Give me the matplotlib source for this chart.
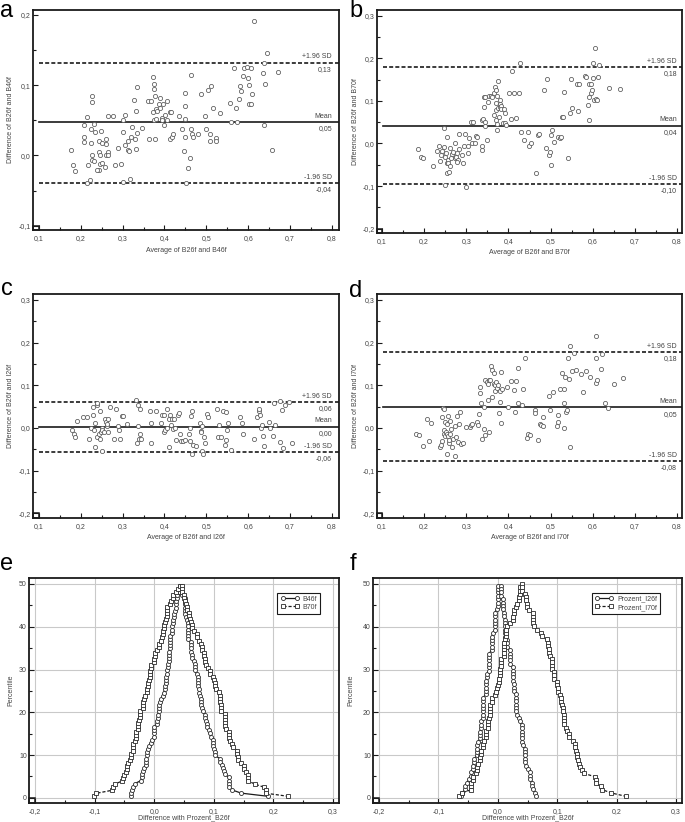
import numpy as np
import matplotlib
matplotlib.use("Agg")
import matplotlib.pyplot as plt
from matplotlib.ticker import MultipleLocator, FuncFormatter
from matplotlib.patches import Rectangle

plt.rcParams['font.family'] = ['Liberation Sans', 'DejaVu Sans']
TXT = '#444444'
INK = '#1a1a1a'
PT = '#555555'
W, H = 685, 822

# ---------------- data ----------------
# a: B26f vs B46f
a_avg = [0.176, 0.182, 0.186, 0.215, 0.207, 0.209, 0.207, 0.218, 0.215, 0.223,
         0.226, 0.227, 0.224, 0.225, 0.227, 0.227, 0.232, 0.233, 0.231, 0.243,
         0.244, 0.246, 0.246, 0.244, 0.240, 0.248, 0.250, 0.250, 0.258, 0.260,
         0.261, 0.261, 0.264, 0.265, 0.265, 0.278, 0.281, 0.289, 0.297, 0.300,
         0.302, 0.306, 0.306, 0.300, 0.312, 0.313, 0.315, 0.320, 0.322, 0.327,
         0.329, 0.331, 0.333, 0.335, 0.318, 0.335, 0.346, 0.361, 0.362, 0.369,
         0.372, 0.375, 0.373, 0.375, 0.375, 0.377, 0.379, 0.381, 0.378, 0.383,
         0.387, 0.389, 0.390, 0.393, 0.396, 0.394, 0.402, 0.400, 0.405, 0.407,
         0.413, 0.414, 0.416, 0.419, 0.421, 0.434, 0.443, 0.447, 0.450, 0.450,
         0.450, 0.450, 0.456, 0.460, 0.463, 0.464, 0.467, 0.468, 0.479, 0.487,
         0.496, 0.499, 0.504, 0.508, 0.510, 0.511, 0.516, 0.522, 0.524, 0.533,
         0.556, 0.559, 0.567, 0.570, 0.573, 0.578, 0.581, 0.584, 0.588, 0.589,
         0.597, 0.600, 0.602, 0.602, 0.606, 0.607, 0.610, 0.615, 0.636, 0.639,
         0.639, 0.641, 0.646, 0.658, 0.672, 0.452]
a_diff = [0.008, -0.013, -0.022, 0.055, 0.044, 0.027, 0.019, -0.014, -0.039, -0.035,
          0.085, 0.076, 0.038, 0.018, 0.000, -0.006, 0.045, 0.034, -0.008, 0.020,
          0.005, 0.000, -0.012, -0.021, -0.021, 0.035, 0.018, -0.011, -0.017, 0.024,
          0.016, 0.000, 0.005, 0.000, 0.056, 0.056, -0.013, 0.011, -0.012, 0.051,
          0.034, 0.057, 0.015, -0.038, 0.020, 0.008, 0.006, 0.026, 0.041, 0.079,
          0.024, 0.009, 0.064, 0.098, -0.033, 0.032, 0.039, 0.078, 0.023, 0.077,
          0.062, 0.095, 0.111, 0.051, 0.102, 0.085, 0.066, 0.052, 0.023, 0.063,
          0.073, 0.068, 0.082, 0.054, 0.073, 0.051, 0.057, 0.044, 0.051, 0.078,
          0.062, 0.024, 0.062, 0.027, 0.030, 0.056, 0.037, 0.006, 0.089, 0.071,
          0.052, 0.026, -0.018, -0.003, 0.115, 0.037, 0.031, 0.026, 0.030, 0.088,
          0.056, 0.037, 0.093, 0.021, 0.030, 0.099, 0.068, 0.025, 0.021, 0.061,
          0.075, 0.047, 0.125, 0.068, 0.047, 0.081, 0.099, 0.092, 0.113, 0.125,
          0.126, 0.110, 0.101, 0.073, 0.125, 0.073, 0.087, 0.191, 0.117, 0.131,
          0.044, 0.102, 0.146, 0.008, 0.119, -0.039]
a_lines = [0.132, 0.047, -0.039]
a_vals = ['0,13', '0,05', '-0,04']

# b: B26f vs B70f  (average, difference)
b_pts = [(0.185, -0.012), (0.192, -0.031), (0.197, -0.033), (0.221, -0.052), (0.231, -0.017),
         (0.235, -0.005), (0.237, -0.041), (0.239, -0.028), (0.242, -0.018), (0.247, -0.009),
         (0.247, 0.037), (0.250, -0.031), (0.251, -0.023), (0.253, 0.016), (0.254, -0.047),
         (0.257, -0.039), (0.254, -0.070), (0.258, -0.066), (0.257, -0.045), (0.261, -0.054),
         (0.262, -0.011), (0.265, -0.025), (0.263, -0.035), (0.268, -0.019), (0.272, 0.000),
         (0.274, -0.035), (0.276, -0.031), (0.280, -0.039), (0.277, -0.044), (0.279, -0.023),
         (0.282, -0.012), (0.283, 0.022), (0.289, -0.027), (0.292, -0.045), (0.294, -0.007),
         (0.296, 0.022), (0.299, -0.101), (0.304, -0.006), (0.305, -0.023), (0.307, 0.012),
         (0.311, 0.050), (0.316, 0.050), (0.314, 0.002), (0.320, 0.002), (0.324, 0.018),
         (0.325, 0.016), (0.337, 0.055), (0.337, -0.015), (0.338, -0.007), (0.340, 0.058),
         (0.342, 0.085), (0.341, 0.110), (0.344, 0.051), (0.344, 0.040), (0.345, 0.108),
         (0.348, 0.008), (0.351, 0.098), (0.355, 0.112), (0.359, 0.112), (0.362, 0.110),
         (0.365, 0.066), (0.365, 0.118), (0.367, 0.133), (0.370, 0.125), (0.371, 0.054),
         (0.371, 0.094), (0.371, 0.079), (0.373, 0.032), (0.374, 0.112), (0.374, 0.046),
         (0.376, 0.146), (0.375, 0.084), (0.378, 0.063), (0.379, 0.093), (0.379, 0.101),
         (0.381, 0.085), (0.383, 0.087), (0.382, 0.081), (0.386, 0.047), (0.389, 0.080),
         (0.391, 0.071), (0.393, 0.047), (0.395, 0.043), (0.401, 0.119), (0.405, 0.058),
         (0.408, 0.169), (0.413, 0.119), (0.419, 0.060), (0.424, 0.118), (0.427, 0.188),
         (0.431, 0.028), (0.437, 0.008), (0.446, 0.026), (0.449, -0.007), (0.454, 0.000),
         (0.465, -0.069), (0.471, 0.020), (0.473, 0.022), (0.485, 0.126), (0.490, -0.011),
         (0.492, 0.151), (0.496, -0.028), (0.498, -0.019), (0.500, -0.050), (0.501, 0.021),
         (0.503, 0.032), (0.508, 0.004), (0.517, 0.015), (0.522, 0.013), (0.525, 0.015),
         (0.528, 0.063), (0.530, 0.061), (0.533, 0.121), (0.541, -0.035), (0.545, 0.071),
         (0.548, 0.151), (0.552, 0.083), (0.564, 0.076), (0.563, 0.139), (0.567, 0.140),
         (0.581, 0.158), (0.584, 0.157), (0.589, 0.090), (0.591, 0.140), (0.597, 0.139),
         (0.591, 0.110), (0.601, 0.154), (0.596, 0.118), (0.599, 0.126), (0.601, 0.188),
         (0.602, 0.102), (0.605, 0.225), (0.609, 0.104), (0.610, 0.102), (0.613, 0.157),
         (0.615, 0.184), (0.591, 0.055), (0.639, 0.130), (0.666, 0.127), (0.250, -0.097)]
b_lines = [0.179, 0.042, -0.095]
b_vals = ['0,18', '0,04', '-0,10']

# c: B26f vs I26f
c_pts = [(0.180, -0.005), (0.185, -0.015), (0.187, -0.020), (0.190, 0.016), (0.205, 0.025),
         (0.215, 0.025), (0.220, -0.025), (0.225, 0.000), (0.230, 0.030), (0.230, 0.050),
         (0.232, -0.005), (0.235, 0.012), (0.235, -0.045), (0.238, 0.055), (0.240, 0.058),
         (0.240, -0.020), (0.243, -0.015), (0.245, 0.040), (0.245, -0.025), (0.248, -0.010),
         (0.250, 0.000), (0.250, -0.005), (0.252, -0.055), (0.255, -0.010), (0.258, 0.020),
         (0.260, 0.015), (0.262, 0.005), (0.263, 0.010), (0.265, -0.010), (0.265, 0.020),
         (0.270, 0.048), (0.280, -0.025), (0.285, 0.045), (0.290, 0.005), (0.292, -0.005),
         (0.293, -0.025), (0.298, 0.028), (0.300, 0.028), (0.310, 0.010), (0.332, 0.065),
         (0.335, -0.035), (0.337, 0.055), (0.338, 0.005), (0.340, -0.025), (0.342, -0.015),
         (0.342, 0.045), (0.345, -0.025), (0.365, 0.040), (0.367, 0.012), (0.368, -0.035),
         (0.380, 0.040), (0.392, 0.012), (0.395, 0.030), (0.398, 0.030), (0.400, -0.010),
         (0.402, -0.005), (0.405, 0.045), (0.407, 0.000), (0.410, 0.020), (0.410, -0.045),
         (0.413, 0.030), (0.415, 0.008), (0.418, 0.020), (0.420, -0.002), (0.423, 0.020),
         (0.425, 0.000), (0.428, -0.028), (0.432, 0.030), (0.434, 0.035), (0.437, -0.015),
         (0.440, -0.030), (0.445, -0.030), (0.450, -0.028), (0.458, -0.015), (0.460, -0.030),
         (0.462, 0.000), (0.463, 0.028), (0.465, 0.040), (0.465, -0.060), (0.468, -0.040),
         (0.475, -0.042), (0.485, 0.012), (0.487, -0.008), (0.488, -0.010), (0.490, 0.005),
         (0.490, -0.055), (0.492, -0.062), (0.495, -0.020), (0.497, -0.035), (0.502, 0.033),
         (0.505, 0.025), (0.525, 0.045), (0.528, -0.020), (0.530, 0.008), (0.535, -0.020),
         (0.540, 0.040), (0.545, -0.040), (0.547, -0.028), (0.548, 0.038), (0.550, -0.005),
         (0.552, 0.012), (0.560, -0.052), (0.580, 0.025), (0.585, 0.012), (0.587, -0.015),
         (0.615, -0.025), (0.620, 0.025), (0.625, 0.040), (0.627, 0.045), (0.628, 0.030),
         (0.630, 0.000), (0.632, 0.008), (0.635, -0.018), (0.638, -0.042), (0.650, 0.015),
         (0.652, 0.000), (0.660, -0.018), (0.662, 0.058), (0.665, 0.008), (0.675, -0.033),
         (0.677, 0.063), (0.680, 0.042), (0.683, -0.048), (0.687, 0.055), (0.698, 0.060),
         (0.705, -0.035)]
c_lines = [0.061, 0.003, -0.056]
c_vals = ['0,06', '0,00', '-0,06']

# d: B26f vs I70f
d_pts = [(0.181, -0.013), (0.188, -0.017), (0.197, -0.042), (0.207, 0.020), (0.211, -0.030),
         (0.217, 0.011), (0.237, -0.045), (0.241, -0.041), (0.242, -0.030), (0.243, 0.026),
         (0.245, 0.047), (0.246, 0.045), (0.246, -0.015), (0.247, -0.004), (0.249, 0.014),
         (0.250, -0.019), (0.251, -0.009), (0.253, -0.060), (0.254, -0.013), (0.255, 0.010),
         (0.256, 0.028), (0.257, -0.019), (0.258, -0.035), (0.259, -0.029), (0.261, 0.016),
         (0.262, -0.013), (0.264, -0.002), (0.265, -0.045), (0.268, -0.025), (0.272, 0.004),
         (0.274, -0.065), (0.275, -0.020), (0.278, 0.027), (0.280, -0.034), (0.282, 0.010),
         (0.286, 0.038), (0.288, -0.037), (0.292, -0.035), (0.300, 0.002), (0.308, 0.002),
         (0.310, 0.006), (0.314, 0.010), (0.325, 0.014), (0.328, 0.006), (0.330, 0.032),
         (0.332, 0.082), (0.333, 0.095), (0.335, 0.059), (0.338, -0.025), (0.341, 0.049),
         (0.343, -0.003), (0.344, 0.112), (0.345, -0.017), (0.348, 0.107), (0.351, 0.102),
         (0.352, 0.066), (0.353, 0.112), (0.354, -0.009), (0.357, 0.112), (0.359, 0.145),
         (0.361, 0.135), (0.362, 0.073), (0.365, 0.130), (0.366, 0.104), (0.367, 0.087),
         (0.369, 0.100), (0.371, 0.108), (0.373, 0.094), (0.375, 0.100), (0.378, 0.035),
         (0.379, 0.087), (0.381, 0.061), (0.382, 0.012), (0.383, 0.131), (0.384, 0.092),
         (0.397, 0.095), (0.400, 0.049), (0.405, 0.110), (0.413, 0.088), (0.415, 0.037),
         (0.419, 0.110), (0.422, 0.059), (0.423, 0.141), (0.433, 0.053), (0.435, 0.092),
         (0.439, 0.163), (0.443, -0.023), (0.446, -0.013), (0.452, -0.017), (0.462, 0.041),
         (0.464, 0.035), (0.470, -0.029), (0.476, 0.010), (0.478, 0.006), (0.481, 0.026),
         (0.482, 0.004), (0.496, 0.074), (0.498, 0.041), (0.506, 0.084), (0.515, 0.004),
         (0.517, 0.031), (0.518, 0.014), (0.522, 0.091), (0.527, 0.130), (0.531, 0.000),
         (0.532, 0.059), (0.533, 0.092), (0.535, 0.120), (0.537, 0.037), (0.540, 0.041),
         (0.542, 0.165), (0.544, 0.114), (0.545, -0.045), (0.546, 0.191), (0.552, 0.134),
         (0.556, 0.176), (0.560, 0.137), (0.573, 0.126), (0.577, 0.084), (0.585, 0.134),
         (0.593, 0.120), (0.607, 0.106), (0.610, 0.112), (0.609, 0.165), (0.607, 0.215),
         (0.620, 0.139), (0.622, 0.173), (0.629, 0.059), (0.636, 0.047), (0.651, 0.102),
         (0.672, 0.116)]
d_lines = [0.177, 0.048, -0.078]
d_vals = ['0,18', '0,05', '-0,08']

line_names = ['+1.96 SD', 'Mean', '-1.96 SD']

# ---------------- helpers ----------------
fig = plt.figure(figsize=(W / 100, H / 100), dpi=100)
fig.patch.set_facecolor('white')


def px_ax(l, t, r, b):
    return fig.add_axes([l / W, 1 - b / H, (r - l) / W, (b - t) / H])


def comma(fmt):
    def f(v, pos):
        s = fmt.format(v)
        if s.startswith('-') and float(s) == 0:
            s = s[1:]
        return s.replace('.', ',')
    return FuncFormatter(f)


def style(ax, xlim, ylim, x0, y0, xstep, ystep, xfmt, yfmt, xlab, ylab, xl_y, yl_x):
    ax.set_xlim(*xlim)
    ax.set_ylim(*ylim)
    ax.xaxis.set_major_locator(MultipleLocator(xstep))
    ax.xaxis.set_minor_locator(MultipleLocator(xstep / 2))
    ax.yaxis.set_major_locator(MultipleLocator(ystep))
    ax.yaxis.set_minor_locator(MultipleLocator(ystep / 2))
    ax.xaxis.set_major_formatter(xfmt)
    ax.yaxis.set_major_formatter(yfmt)
    ax.tick_params(which='both', direction='in', color=INK, width=0.8,
                   labelsize=5, labelcolor=TXT, top=False, right=False)
    ax.tick_params(which='major', length=3.5)
    ax.tick_params(which='minor', length=2)
    ax.tick_params(axis='x', which='both', pad=3.5)
    ax.tick_params(axis='y', which='both', pad=1.5)
    for sp in ax.spines.values():
        sp.set_linewidth(1.3)
        sp.set_color(INK)
    ax.set_xlabel(xlab, fontsize=5, color=TXT)
    ax.set_ylabel(ylab, fontsize=5, color=TXT)
    ax.xaxis.set_label_coords(0.5, xl_y)
    ax.yaxis.set_label_coords(yl_x, 0.5)
    # little corner bracket where both axes start
    ax.add_patch(Rectangle((xlim[0], ylim[0]), x0 - xlim[0], y0 - ylim[0],
                           fill=False, lw=1.1, ec=INK, clip_on=False, zorder=5))


def bland_altman(ax, avg, diff, lines, vals):
    ax.scatter(avg, diff, s=9, facecolors='white', edgecolors=PT, linewidths=0.55, zorder=3)
    for k, (yv, name, val) in enumerate(zip(lines, line_names, vals)):
        ls = '-' if k == 1 else (0, (2.4, 1.3))
        ax.axhline(yv, xmin=0.02, xmax=1.0, color=INK, lw=1.2, ls=ls, zorder=2)
        ax.annotate(name, (0.8, yv), xytext=(0, 1.6), textcoords='offset points',
                    ha='right', va='bottom', fontsize=5, color=TXT)
        ax.annotate(val, (0.8, yv), xytext=(0, -2.2), textcoords='offset points',
                    ha='right', va='top', fontsize=5, color=TXT)


def mountain(diff):
    s = np.sort(np.asarray(diff))
    n = len(s)
    p = 100.0 * (np.arange(1, n + 1) - 0.5) / n
    return s, np.where(p > 50, 100 - p, p)


f1 = comma('{:.1f}')
f0 = FuncFormatter(lambda v, pos: f'{v:.0f}')

# ---------------- a ----------------
ax = px_ax(33, 10, 339, 230)
style(ax, (0.086, 0.817), (-0.106, 0.207), 0.1, -0.1, 0.1, 0.1, f1, f1,
      'Average of B26f and B46f', 'Difference of B26f and B46f', -0.075, -0.062)
bland_altman(ax, a_avg, a_diff, a_lines, a_vals)

# ---------------- b ----------------
bx, by = np.array(b_pts).T
ax = px_ax(377, 10, 682, 233)
style(ax, (0.088, 0.812), (-0.210, 0.313), 0.1, -0.2, 0.1, 0.1, f1, f1,
      'Average of B26f and B70f', 'Difference of B26f and B70f', -0.073, -0.058)
bland_altman(ax, bx, by, b_lines, b_vals)

# ---------------- c ----------------
cx, cy = np.array(c_pts).T
ax = px_ax(33, 294, 339, 518)
style(ax, (0.086, 0.817), (-0.211, 0.314), 0.1, -0.2, 0.1, 0.1, f1, f1,
      'Average of B26f and I26f', 'Difference of B26f and I26f', -0.073, -0.062)
bland_altman(ax, cx, cy, c_lines, c_vals)

# ---------------- d ----------------
dx, dy = np.array(d_pts).T
ax = px_ax(377, 294, 682, 518)
style(ax, (0.088, 0.812), (-0.211, 0.314), 0.1, -0.2, 0.1, 0.1, f1, f1,
      'Average of B26f and I70f', 'Difference of B26f and I70f', -0.073, -0.058)
bland_altman(ax, dx, dy, d_lines, d_vals)


# ---------------- e / f : mountain plots ----------------
def mountain_panel(l, r, d1, d2, n1, n2, leg_x, yl_x):
    ax = px_ax(l, 578, r, 803)
    style(ax, (-0.210, 0.310), (-1.2, 51.4), -0.2, 0, 0.1, 10, f1, f0,
          'Difference with Prozent_B26f', 'Percentile', -0.05, yl_x)
    ax.grid(True, which='major', color='#c9c9c9', lw=0.8, zorder=0)
    ax.set_axisbelow(True)
    x1, p1 = mountain(d1)
    x2, p2 = mountain(d2)
    h1, = ax.plot(x1, p1, '-', color=INK, lw=0.9, marker='o', ms=2.9,
                  mfc='white', mec='#2a2a2a', mew=0.6, zorder=3, label=n1)
    h2, = ax.plot(x2, p2, color=INK, lw=0.9, ls=(0, (2.5, 1.5)), marker='s', ms=2.6,
                  mfc='white', mec='#2a2a2a', mew=0.6, zorder=3, label=n2)
    leg = ax.legend(handles=[h1, h2], loc='upper right', bbox_to_anchor=(leg_x, 0.935),
                    fontsize=5, numpoints=2, handlelength=2.6, handletextpad=0.6,
                    borderpad=0.45, labelspacing=0.15, fancybox=False, framealpha=1,
                    edgecolor=INK, borderaxespad=0)
    leg.get_frame().set_linewidth(0.8)
    for t in leg.get_texts():
        t.set_color(TXT)
    return ax


mountain_panel(29, 339, a_diff, by, 'B46f', 'B70f', 0.94, -0.048)
mountain_panel(373, 682, cy, dy, 'Prozent_I26f', 'Prozent_I70f', 0.93, -0.061)

# ---------------- panel letters ----------------
for letter, xp, yp in [('a', 0, 17), ('b', 349, 17), ('c', 1, 295),
                       ('d', 349, 297), ('e', 0, 570), ('f', 350, 570)]:
    fig.text(xp / W, 1 - yp / H, letter, fontsize=17, color='black',
             ha='left', va='baseline')

fig.savefig('out.png', dpi=100, facecolor='white')
